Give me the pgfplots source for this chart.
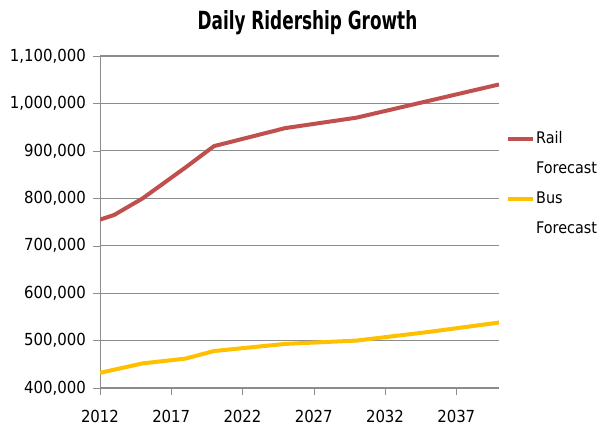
\documentclass[border=0pt]{standalone}
\usepackage{pgfplots}
\pgfplotsset{compat=1.18}
\usepackage{fontspec}
\setmainfont{DejaVu Sans Condensed}
\definecolor{railred}{HTML}{C0504D}
\definecolor{busgold}{HTML}{FFC000}
\definecolor{gridgray}{HTML}{8C8C8C}

\begin{document}
\begin{tikzpicture}
\path[use as bounding box] (-50pt,-26pt) rectangle (254pt,194pt);
\begin{axis}[
  scale only axis,
  width=199.5pt, height=166pt,
  at={(0,0)}, anchor=south west,
  xmin=2012, xmax=2040,
  ymin=400000, ymax=1100000,
  xtick={2012,2017,...,2037},
  ytick={400000,500000,...,1100000},
  scaled y ticks=false,
  yticklabel style={/pgf/number format/fixed, /pgf/number format/1000 sep={,}},
  xticklabel style={/pgf/number format/1000 sep={}, yshift=-4pt},
  /pgf/number format/assume math mode=true,
  ticklabel style={font=\fontsize{8.3}{9}\selectfont},
  ymajorgrids,
  grid style={gridgray, line width=0.6pt},
  axis x line*=bottom, axis y line*=left,
  axis line style={gridgray, line width=0.5pt, -},
  tick style={gridgray},
  xtick pos=bottom, ytick pos=left,
  tick align=outside,
  major tick length=3.5pt,
  title={\scalebox{0.75}[1]{Daily Ridership Growth}},
  title style={font=\fontsize{12.5}{13}\selectfont\bfseries, yshift=1pt, xshift=4pt},
  legend style={at={(1.017,0.777)}, anchor=north west, draw=none, fill=none,
    font=\fontsize{8}{9}\selectfont,
    nodes={anchor=west, text height=6pt, text depth=2pt, inner sep=0.5pt},
    row sep=6pt, inner sep=0pt},
  legend image code/.code={\draw[#1, line width=2pt] (0pt,0pt) -- (12.5pt,0pt);},
  every axis plot/.append style={line width=2pt},
]
\addplot[railred] coordinates {
  (2012,755000) (2013,765000) (2015,800000) (2018,865000) (2020,910000)
  (2025,948000) (2030,970000) (2035,1005000) (2040,1040000)
};
\addlegendentry{Rail}
\addlegendimage{empty legend}
\addlegendentry{Forecast}
\addplot[busgold] coordinates {
  (2012,432000) (2015,452000) (2018,462000) (2020,478000)
  (2025,493000) (2030,500000) (2035,518000) (2040,538000)
};
\addlegendentry{Bus}
\addlegendimage{empty legend}
\addlegendentry{Forecast}
\end{axis}
\end{tikzpicture}
\end{document}
